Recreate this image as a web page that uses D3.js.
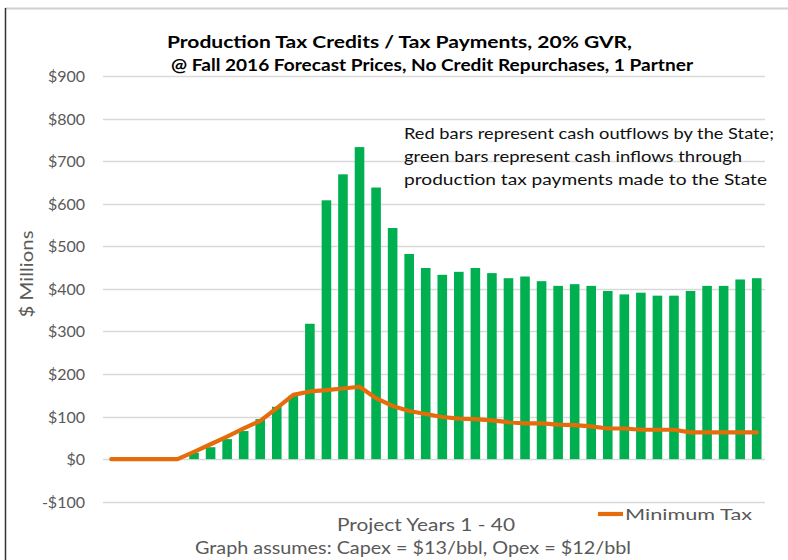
<!DOCTYPE html>
<html>
<head>
<meta charset="utf-8">
<script src="https://cdn.jsdelivr.net/npm/d3@7"></script>
<style>
  body { margin: 0; background: #fff; }
  svg { display: block; font-family: Lato, "Open Sans", sans-serif; }
</style>
</head>
<body>
<script>
// project years 1 - 40
var years = d3.range(1, 41);

// production tax payments ($ millions), green bars
var taxPayments = [0, 0, 0, 0, 0, 15, 28, 47, 66, 94,
  123, 149, 318, 608, 669, 733, 638, 543, 482, 449,
  433, 440, 449, 437, 425, 429, 418, 407, 411, 407,
  395, 387, 391, 384, 384, 395, 407, 407, 422, 425];

// minimum tax ($ millions), orange line
var minimumTax = [0, 0, 0, 0, 0, 17, 35, 53, 72, 90,
  120, 151, 159, 162, 166, 170, 143, 125, 113, 106,
  99, 95, 94, 91, 87, 84, 84, 81, 80, 77,
  72, 72, 69, 69, 69, 63, 63, 63, 63, 63];

var yTicks = [-100, 0, 100, 200, 300, 400, 500, 600, 700, 800, 900];

var titleLines = ["Production Tax Credits / Tax Payments, 20% GVR,",
  "@ Fall 2016 Forecast Prices, No Credit Repurchases, 1 Partner"];
var noteLines = ["Red bars represent cash outflows by the State;",
  "green bars represent cash inflows through",
  "production tax payments made to the State"];

var width = 788, height = 560;
var barColor = "#00b050", lineColor = "#e46c0a", gridColor = "#d9d9d9", textGray = "#595959";

var svg = d3.select("body").append("svg")
  .attr("width", width)
  .attr("height", height);

// outer frame bits
svg.append("line").attr("x1", 5).attr("x2", width).attr("y1", 8.5).attr("y2", 8.5)
  .style("stroke", "#d0d0d0").style("stroke-width", 2);
svg.append("line").attr("x1", 5.5).attr("x2", 5.5).attr("y1", 8).attr("y2", height)
  .style("stroke", "#333").style("stroke-width", 1.5);

var x = d3.scaleBand().domain(years).range([103, 765]).paddingInner(0.42).paddingOuter(0.21);
var y = d3.scaleLinear().domain([-100, 900]).range([501.7, 76]);

// gridlines
svg.append("g").selectAll("line")
  .data(yTicks)
  .enter().append("line")
  .attr("x1", 103).attr("x2", 765)
  .attr("y1", function(d) { return Math.round(y(d)) + 0.5; })
  .attr("y2", function(d) { return Math.round(y(d)) + 0.5; })
  .style("stroke", gridColor)
  .style("stroke-width", 1.3);

// y axis labels
svg.append("g").selectAll("text")
  .data(yTicks)
  .enter().append("text")
  .attr("x", 85)
  .attr("y", function(d) { return y(d) + 6; })
  .style("text-anchor", "end")
  .style("font-size", "16px")
  .style("fill", textGray)
  .text(function(d) { return (d < 0 ? "-$" : "$") + Math.abs(d); });

svg.append("text")
  .attr("transform", "translate(33,274) rotate(-90)")
  .style("text-anchor", "middle")
  .style("font-size", "18px")
  .style("fill", textGray)
  .attr("textLength", 87)
  .attr("lengthAdjust", "spacingAndGlyphs")
  .text("$ Millions");

// bars
svg.append("g").selectAll("rect")
  .data(taxPayments)
  .enter().append("rect")
  .attr("x", function(d, i) { return x(years[i]); })
  .attr("width", x.bandwidth())
  .attr("y", function(d) { return y(Math.max(0, d)); })
  .attr("height", function(d) { return Math.abs(y(d) - y(0)); })
  .style("fill", function(d) { return d < 0 ? "#c00000" : barColor; });

// minimum tax line
var line = d3.line()
  .x(function(d, i) { return x(years[i]) + x.bandwidth() / 2; })
  .y(function(d) { return y(d); });

svg.append("path")
  .datum(minimumTax)
  .attr("d", line)
  .style("fill", "none")
  .style("stroke", lineColor)
  .style("stroke-width", 4.2)
  .style("stroke-linejoin", "round")
  .style("stroke-linecap", "round");

// title
var titleX = [167, 171], titleW = [465, 522], titleY = [48, 71];
svg.append("g").selectAll("text")
  .data(titleLines)
  .enter().append("text")
  .attr("x", function(d, i) { return titleX[i]; })
  .attr("y", function(d, i) { return titleY[i]; })
  .attr("textLength", function(d, i) { return titleW[i]; })
  .attr("lengthAdjust", "spacingAndGlyphs")
  .style("font-size", "17px")
  .style("font-weight", "bold")
  .style("fill", "#000")
  .text(function(d) { return d; });

// annotation
var noteW = [370, 338, 363];
svg.append("g").selectAll("text")
  .data(noteLines)
  .enter().append("text")
  .attr("x", 404)
  .attr("y", function(d, i) { return 139 + i * 23; })
  .attr("textLength", function(d, i) { return noteW[i]; })
  .attr("lengthAdjust", "spacingAndGlyphs")
  .style("font-size", "16px")
  .style("fill", "#111")
  .text(function(d) { return d; });

// legend
svg.append("line")
  .attr("x1", 598).attr("x2", 623).attr("y1", 514).attr("y2", 514)
  .style("stroke", lineColor).style("stroke-width", 4.2);
svg.append("text")
  .attr("x", 625).attr("y", 520)
  .attr("textLength", 127)
  .attr("lengthAdjust", "spacingAndGlyphs")
  .style("font-size", "16px")
  .style("fill", textGray)
  .text("Minimum Tax");

// x axis titles
svg.append("text")
  .attr("x", 337).attr("y", 531)
  .attr("textLength", 178)
  .attr("lengthAdjust", "spacingAndGlyphs")
  .style("font-size", "18px")
  .style("fill", textGray)
  .text("Project Years 1 - 40");

svg.append("text")
  .attr("x", 195).attr("y", 554)
  .attr("textLength", 436)
  .attr("lengthAdjust", "spacingAndGlyphs")
  .style("font-size", "17px")
  .style("fill", textGray)
  .text("Graph assumes: Capex = $13/bbl, Opex = $12/bbl");
</script>
</body>
</html>
